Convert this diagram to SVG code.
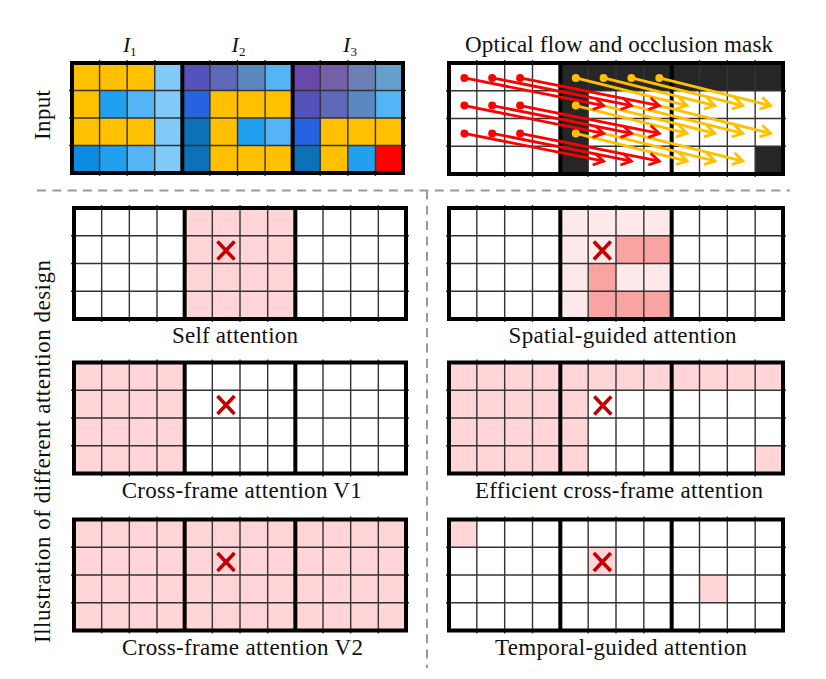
<svg xmlns="http://www.w3.org/2000/svg" xmlns:xlink="http://www.w3.org/1999/xlink" width="826" height="679" viewBox="0 0 826 679">
<style>
.thin{fill:none;stroke:#333;stroke-width:1.4}
.thick{fill:none;stroke:#000;stroke-width:4}
.lbl{font-family:"Liberation Serif","Times New Roman",serif;font-size:23px;fill:#111;text-anchor:middle}
.mth{font-family:"Liberation Serif","Times New Roman",serif;fill:#111}
.pk{fill:#ffd5d8}
.lp{fill:#fde8ea}
.dp{fill:#f9a3a3}
.dk{fill:#262626}
.xm{fill:none;stroke:#c00000;stroke-width:3.6}
.red{stroke:#ff0000;stroke-width:2.8;fill:none;marker-end:url(#ahR)}
.yel{stroke:#ffc000;stroke-width:2.8;fill:none;marker-end:url(#ahY)}
.dash{fill:none;stroke:#999;stroke-width:2;stroke-dasharray:9 6.3}
</style>
<defs>
<path id="thinL" class="thin" d="M27.67,-3V114M55.33,-3V114M83,-3V114M138.33,-3V114M166,-3V114M193.67,-3V114M249,-3V114M276.67,-3V114M304.33,-3V114M-3,27.75H335M-3,55.5H335M-3,83.25H335"/>
<path id="thickL" class="thick" d="M0,0H332V111H0ZM110.67,0V111M221.33,0V111"/>
<path id="thinR" class="thin" d="M27.83,-3V114M55.67,-3V114M83.5,-3V114M139.17,-3V114M167,-3V114M194.83,-3V114M250.5,-3V114M278.33,-3V114M306.17,-3V114M-3,27.75H337M-3,55.5H337M-3,83.25H337"/>
<path id="thickR" class="thick" d="M0,0H334V111H0ZM111.33,0V111M222.67,0V111"/>
<path id="xmark" class="xm" d="M-8.5,-9L8.5,9M8.5,-9L-8.5,9"/>
<marker id="ahR" viewBox="-14 -9 18 18" markerWidth="18" markerHeight="18" refX="0" refY="0" orient="auto" markerUnits="userSpaceOnUse"><path d="M-10,-6L0,0L-10,6" fill="none" stroke="#ff0000" stroke-width="2.8"/></marker>
<marker id="ahY" viewBox="-14 -9 18 18" markerWidth="18" markerHeight="18" refX="0" refY="0" orient="auto" markerUnits="userSpaceOnUse"><path d="M-10,-6L0,0L-10,6" fill="none" stroke="#ffc000" stroke-width="2.8"/></marker>
</defs>
<rect x="0" y="0" width="826" height="679" fill="#fff"/>

<g id="input-frames">
<g transform="translate(72,63) scale(0.997,0.991)">
<rect x="0" y="0" width="83" height="27.75" fill="#ffc000"/>
<rect x="83" y="0" width="27.67" height="111" fill="#82caf8"/>
<rect x="110.67" y="0" width="27.67" height="27.75" fill="#5552bb"/>
<rect x="138.33" y="0" width="27.67" height="27.75" fill="#5d68b8"/>
<rect x="166" y="0" width="27.67" height="27.75" fill="#5b88c0"/>
<rect x="193.67" y="0" width="27.67" height="27.75" fill="#55b4f5"/>
<rect x="221.33" y="0" width="27.67" height="27.75" fill="#6a48aa"/>
<rect x="249" y="0" width="27.67" height="27.75" fill="#7460a8"/>
<rect x="276.67" y="0" width="27.67" height="27.75" fill="#6e7fb5"/>
<rect x="304.33" y="0" width="27.67" height="27.75" fill="#65a0cc"/>
<rect x="0" y="27.75" width="27.67" height="27.75" fill="#ffc000"/>
<rect x="27.67" y="27.75" width="27.67" height="27.75" fill="#21a0f0"/>
<rect x="55.33" y="27.75" width="27.67" height="27.75" fill="#55b4f5"/>
<rect x="110.67" y="27.75" width="27.67" height="27.75" fill="#2563e0"/>
<rect x="138.33" y="27.75" width="83" height="27.75" fill="#ffc000"/>
<rect x="221.33" y="27.75" width="27.67" height="27.75" fill="#5552bb"/>
<rect x="249" y="27.75" width="27.67" height="27.75" fill="#5d68b8"/>
<rect x="276.67" y="27.75" width="27.67" height="27.75" fill="#5b88c0"/>
<rect x="304.33" y="27.75" width="27.67" height="27.75" fill="#55b4f5"/>
<rect x="0" y="55.5" width="83" height="27.75" fill="#ffc000"/>
<rect x="110.67" y="55.5" width="27.67" height="27.75" fill="#0b72b8"/>
<rect x="138.33" y="55.5" width="27.67" height="27.75" fill="#ffc000"/>
<rect x="166" y="55.5" width="27.67" height="27.75" fill="#21a0f0"/>
<rect x="193.67" y="55.5" width="27.67" height="27.75" fill="#55b4f5"/>
<rect x="221.33" y="55.5" width="27.67" height="27.75" fill="#2563e0"/>
<rect x="249" y="55.5" width="83" height="27.75" fill="#ffc000"/>
<rect x="0" y="83.25" width="27.67" height="27.75" fill="#0b8ce0"/>
<rect x="27.67" y="83.25" width="27.67" height="27.75" fill="#21a0f0"/>
<rect x="55.33" y="83.25" width="27.67" height="27.75" fill="#55b4f5"/>
<rect x="110.67" y="83.25" width="27.67" height="27.75" fill="#0b72b8"/>
<rect x="138.33" y="83.25" width="83" height="27.75" fill="#ffc000"/>
<rect x="221.33" y="83.25" width="27.67" height="27.75" fill="#0b72b8"/>
<rect x="249" y="83.25" width="27.67" height="27.75" fill="#ffc000"/>
<rect x="276.67" y="83.25" width="27.67" height="27.75" fill="#21a0f0"/>
<rect x="304.33" y="83.25" width="27.67" height="27.75" fill="#ff0000"/>
<use xlink:href="#thinL"/>
<use xlink:href="#thickL"/>
</g>
<text class="mth" x="123" y="52" font-size="22" font-style="italic">I</text><text class="mth" x="130" y="56" font-size="13">1</text>
<text class="mth" x="231.5" y="52" font-size="22" font-style="italic">I</text><text class="mth" x="239" y="56" font-size="13">2</text>
<text class="mth" x="343" y="52" font-size="22" font-style="italic">I</text><text class="mth" x="350.5" y="56" font-size="13">3</text>
<text class="lbl" transform="translate(50,115) rotate(-90)" x="0" y="0" textLength="50">Input</text>
</g>

<g id="optical-flow">
<g transform="translate(449,63)">
<rect class="dk" x="111.33" y="0" width="222.67" height="27.75"/>
<rect class="dk" x="111.33" y="27.75" width="27.83" height="83.25"/>
<rect class="dk" x="306.17" y="83.25" width="27.83" height="27.75"/>
<use xlink:href="#thinR"/>
<use xlink:href="#thickR"/>
</g>
<text class="lbl" x="619" y="52" textLength="308">Optical flow and occlusion mask</text>
</g>

<g id="connectors" transform="translate(449,63)">
<path class="yel" d="M126.8,14.9L238.1,42.6"/>
<path class="yel" d="M154.6,14.9L265.9,42.6"/>
<path class="yel" d="M182.4,14.9L293.8,42.6"/>
<path class="yel" d="M210.3,14.9L321.6,42.6"/>
<path class="yel" d="M126.8,42.6L238.1,70.4"/>
<path class="yel" d="M154.6,42.6L265.9,70.4"/>
<path class="yel" d="M182.4,42.6L293.8,70.4"/>
<path class="yel" d="M210.3,42.6L321.6,70.4"/>
<path class="yel" d="M126.8,70.4L238.1,98.1"/>
<path class="yel" d="M154.6,70.4L265.9,98.1"/>
<path class="yel" d="M182.4,70.4L293.8,98.1"/>
<path class="red" d="M15.4,14.9L154.6,42.6"/>
<path class="red" d="M43.2,14.9L182.4,42.6"/>
<path class="red" d="M71.1,14.9L210.3,42.6"/>
<path class="red" d="M15.4,42.6L154.6,70.4"/>
<path class="red" d="M43.2,42.6L182.4,70.4"/>
<path class="red" d="M71.1,42.6L210.3,70.4"/>
<path class="red" d="M15.4,70.4L154.6,98.1"/>
<path class="red" d="M43.2,70.4L182.4,98.1"/>
<path class="red" d="M71.1,70.4L210.3,98.1"/>
<g fill="#ff0000">
<circle cx="15.4" cy="14.9" r="4"/><circle cx="43.2" cy="14.9" r="4"/><circle cx="71.1" cy="14.9" r="4"/>
<circle cx="15.4" cy="42.6" r="4"/><circle cx="43.2" cy="42.6" r="4"/><circle cx="71.1" cy="42.6" r="4"/>
<circle cx="15.4" cy="70.4" r="4"/><circle cx="43.2" cy="70.4" r="4"/><circle cx="71.1" cy="70.4" r="4"/>
</g>
<g fill="#ffc000">
<circle cx="126.8" cy="14.9" r="4"/><circle cx="154.6" cy="14.9" r="4"/><circle cx="182.4" cy="14.9" r="4"/><circle cx="210.3" cy="14.9" r="4"/>
<circle cx="126.8" cy="42.6" r="4"/><circle cx="126.8" cy="70.4" r="4"/>
</g>
</g>

<g id="separators">
<path class="dash" d="M37,190.5H790"/>
<path class="dash" d="M427,190.5V668"/>
</g>

<g id="self-attention">
<g transform="translate(74,208)">
<rect class="pk" x="110.67" y="0" width="110.67" height="111"/>
<use xlink:href="#thinL"/>
<use xlink:href="#thickL"/>
<use xlink:href="#xmark" x="152" y="42.5"/>
</g>
<text class="lbl" x="235" y="343" textLength="126">Self attention</text>
</g>

<g id="spatial-guided-attention">
<g transform="translate(449,208)">
<rect class="lp" x="111.33" y="0" width="111.33" height="111"/>
<rect class="dp" x="167" y="27.75" width="55.67" height="27.75"/>
<rect class="dp" x="139.17" y="55.5" width="27.83" height="27.75"/>
<rect class="dp" x="139.17" y="83.25" width="83.5" height="27.75"/>
<use xlink:href="#thinR"/>
<use xlink:href="#thickR"/>
<use xlink:href="#xmark" x="153.3" y="42.5"/>
</g>
<text class="lbl" x="622.5" y="343" textLength="228">Spatial-guided attention</text>
</g>

<g id="cross-frame-attention-v1">
<g transform="translate(74,362.5)">
<rect class="pk" x="0" y="0" width="110.67" height="111"/>
<use xlink:href="#thinL"/>
<use xlink:href="#thickL"/>
<use xlink:href="#xmark" x="152" y="42.5"/>
</g>
<text class="lbl" x="241.7" y="498" textLength="240">Cross-frame attention V1</text>
</g>

<g id="efficient-cross-frame-attention">
<g transform="translate(449,362.5)">
<rect class="pk" x="0" y="0" width="111.33" height="111"/>
<rect class="pk" x="111.33" y="0" width="222.67" height="27.75"/>
<rect class="pk" x="111.33" y="27.75" width="27.83" height="83.25"/>
<rect class="pk" x="306.17" y="83.25" width="27.83" height="27.75"/>
<use xlink:href="#thinR"/>
<use xlink:href="#thickR"/>
<use xlink:href="#xmark" x="153.8" y="43"/>
</g>
<text class="lbl" x="619" y="498" textLength="288">Efficient cross-frame attention</text>
</g>

<g id="cross-frame-attention-v2">
<g transform="translate(74,519.5)">
<rect class="pk" x="0" y="0" width="332" height="111"/>
<use xlink:href="#thinL"/>
<use xlink:href="#thickL"/>
<use xlink:href="#xmark" x="152" y="42.5"/>
</g>
<text class="lbl" x="242.5" y="655" textLength="241">Cross-frame attention V2</text>
</g>

<g id="temporal-guided-attention">
<g transform="translate(449,519.5)">
<rect class="pk" x="0" y="0" width="27.83" height="27.75"/>
<rect class="pk" x="139.17" y="27.75" width="27.83" height="27.75"/>
<rect class="pk" x="250.5" y="55.5" width="27.83" height="27.75"/>
<use xlink:href="#thinR"/>
<use xlink:href="#thickR"/>
<use xlink:href="#xmark" x="153.3" y="42.5"/>
</g>
<text class="lbl" x="621" y="655" textLength="252">Temporal-guided attention</text>
</g>

<g id="side-label">
<text class="lbl" transform="translate(50,451.5) rotate(-90)" x="0" y="0" textLength="383">Illustration of different attention design</text>
</g>
</svg>
